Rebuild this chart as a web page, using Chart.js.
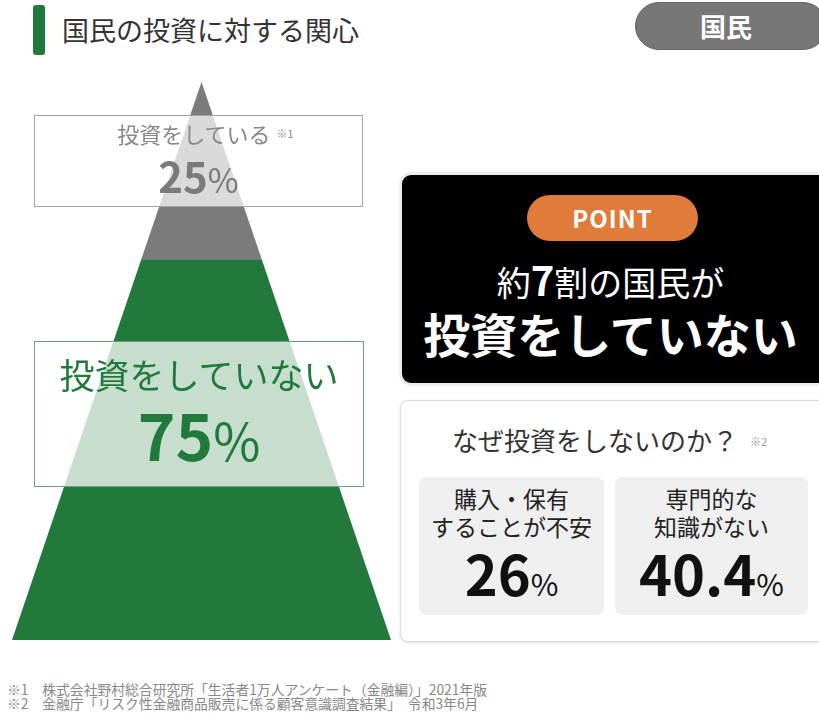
<!DOCTYPE html>
<html lang="ja">
<head>
<meta charset="utf-8">
<script src="https://cdn.jsdelivr.net/npm/chart.js@4.4.1/dist/chart.umd.min.js"></script>
<style>
  body { margin: 0; width: 819px; height: 719px; background: #fff; position: relative; overflow: hidden;
         font-family: "Noto Sans CJK JP", "Noto Sans", sans-serif; color: #333; }
  .abs { position: absolute; }
  #titleBar { left: 33px; top: 5px; width: 12px; height: 50px; background: #217a3c; border-radius: 3px; }
  #title { left: 62px; top: 11px; font-size: 27px; line-height: 38px; color: #333; }
  #pill { left: 635px; top: 2px; width: 190px; height: 46px; background: #777; border: 1px solid #666;
          border-radius: 24px; color: #fff; font-weight: bold; font-size: 26px; line-height: 46px;
          text-indent: 64px; }
  #pyramidBox { left: 12px; top: 82px; width: 379px; height: 558px; }
  .lab { text-align: center; box-sizing: border-box; }
  #labTop { left: 34px; top: 115px; width: 329px; height: 92px; background: rgba(255,255,255,0.72);
            border: 1.5px solid #a5a5a5; color: #888; }
  #labTop .t { font-size: 22px; line-height: 28px; margin-top: 3px; text-indent: 14px; }
  #labTop .t small { font-size: 11px; vertical-align: 5px; margin-left: 6px; }
  #labTop .v { font-size: 42px; font-weight: bold; line-height: 56px; color: #7a7a7a; }
  #labTop .v span, #labBot .v span { font-weight: normal; font-size: 0.8em; }
  #labBot { left: 34px; top: 341px; width: 330px; height: 146px; background: rgba(255,255,255,0.75);
            border: 1.5px solid #6fa07e; color: #217a3c; }
  #labBot .t { font-size: 35px; line-height: 44px; margin-top: 10px; }
  #labBot .v { font-size: 64px; font-weight: bold; line-height: 74px; }
  #point { left: 402px; top: 175px; width: 440px; height: 208px; background: #000; border-radius: 9px;
           box-shadow: 0 0 0 3px #eee; color: #fff; text-align: center; }
  #pointTag { left: 527px; top: 195px; width: 171px; height: 46px; background: #e07b39; border-radius: 23px;
              color: #fff; font-weight: bold; font-size: 24px; line-height: 46px; text-align: center; letter-spacing: 1px; }
  #point1 { left: 402px; top: 255px; width: 417px; text-align: center; color: #fff; font-size: 34px; line-height: 48px; }
  #point1 b { font-size: 40px; }
  #point2 { left: 402px; top: 303px; width: 417px; text-align: center; color: #fff; font-size: 47px; font-weight: bold; line-height: 60px; }
  #why { left: 400px; top: 400px; width: 440px; height: 240px; border: 1px solid #ddd; border-radius: 8px;
         box-shadow: 0 1px 3px rgba(0,0,0,0.12); background: #fff; }
  #whyT { left: 400px; top: 422px; width: 419px; text-align: center; font-size: 26px; line-height: 36px; color: #333; }
  #whyT small { font-size: 11px; color: #999; margin-left: 12px; vertical-align: 5px; }
  .rb { top: 477px; height: 138px; background: #efefef; border-radius: 8px; text-align: center; color: #222; }
  .rb .t { font-size: 23px; line-height: 28px; margin-top: 7px; }
  .rb .v { font-size: 56px; font-weight: bold; line-height: 64px; color: #111; }
  .rb .v span { font-size: 30px; font-weight: normal; }
  #notes { left: 7px; top: 682px; font-size: 13.8px; line-height: 14px; color: #888; white-space: pre; }
</style>
</head>
<body>
<div class="abs" id="titleBar"></div>
<div class="abs" id="title">国民の投資に対する関心</div>
<div class="abs" id="pill">国民</div>

<div class="abs" id="pyramidBox"><canvas id="pyramid"></canvas></div>

<div class="abs lab" id="labTop"></div>
<div class="abs lab" id="labBot"></div>

<div class="abs" id="point"></div>
<div class="abs" id="pointTag">POINT</div>
<div class="abs" id="point1">約<b>7</b>割の国民が</div>
<div class="abs" id="point2">投資をしていない</div>

<div class="abs" id="why"></div>
<div class="abs" id="whyT">なぜ投資をしないのか？<small>※2</small></div>
<div id="reasons"></div>

<div class="abs" id="notes">※1　株式会社野村総合研究所「生活者1万人アンケート（金融編）」2021年版
※2　金融庁「リスク性金融商品販売に係る顧客意識調査結果」　令和3年6月</div>

<script>
// data
var categories = ["投資をしている", "投資をしていない"];
var shares = [25, 75];
var reasonLabels = [["購入・保有", "することが不安"], ["専門的な", "知識がない"]];
var reasonValues = [26, 40.4];

// pyramid shape: apex sits a little above 100 so the grey cap reads as in the original
var apex = 110;
var split = shares[1];
var half = (apex - split) / apex;

new Chart("pyramid", {
  type: "line",
  data: {
    datasets: [{
      data: [{x: -1, y: 0}, {x: -half, y: split}, {x: half, y: split}, {x: 1, y: 0}],
      backgroundColor: "#217a3c",
      borderWidth: 0,
      pointRadius: 0,
      fill: "origin"
    }, {
      data: [{x: -half, y: split}, {x: 0, y: apex}, {x: half, y: split}],
      backgroundColor: "#7b7b7b",
      borderWidth: 0,
      pointRadius: 0,
      fill: {value: split}
    }, {
      data: [{x: -half, y: split}, {x: half, y: split}],
      borderColor: "#b3a8ad",
      borderWidth: 1.5,
      pointRadius: 0,
      fill: false
    }]
  },
  options: {
    responsive: true,
    maintainAspectRatio: false,
    animation: false,
    layout: {padding: 0},
    plugins: {legend: {display: false}, tooltip: {enabled: false}},
    scales: {
      x: {type: "linear", min: -1, max: 1, display: false},
      y: {min: 0, max: apex, display: false}
    }
  }
});

// labels over the pyramid
document.getElementById("labTop").innerHTML =
  '<div class="t">' + categories[0] + '<small>※1</small></div><div class="v">' + shares[0] + '<span>%</span></div>';
document.getElementById("labBot").innerHTML =
  '<div class="t">' + categories[1] + '</div><div class="v">' + shares[1] + '<span>%</span></div>';

// reason boxes
var lefts = [419, 615];
var widths = [185, 193];
var html = "";
for (var i = 0; i < reasonValues.length; i++) {
  html += '<div class="abs rb" style="left:' + lefts[i] + 'px;width:' + widths[i] + 'px">' +
    '<div class="t">' + reasonLabels[i].join("<br>") + '</div>' +
    '<div class="v">' + reasonValues[i] + '<span>%</span></div></div>';
}
document.getElementById("reasons").innerHTML = html;
</script>
</body>
</html>
